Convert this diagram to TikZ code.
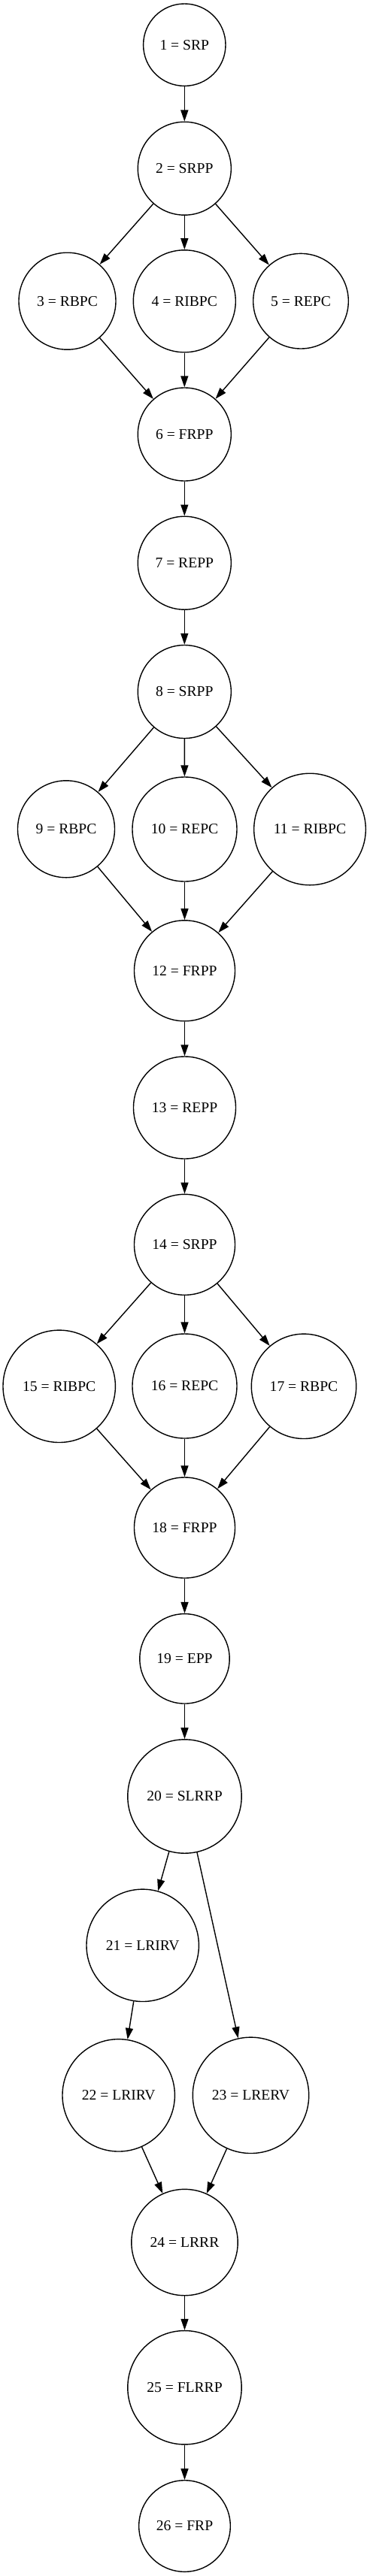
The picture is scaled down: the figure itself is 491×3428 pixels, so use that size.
\documentclass[tikz,border=0pt]{standalone}
\usepackage{fontspec}
\setmainfont{Liberation Serif}
\usetikzlibrary{arrows.meta}
\tikzset{
  nd/.style={draw, circle, inner sep=0pt, line width=1.4pt, font=\fontsize{19.6}{23}\selectfont},
  ed/.style={line width=1.4pt, -{Triangle[length=15pt,width=10pt]}}
}
\begin{document}
\begin{tikzpicture}[x=1pt,y=-1pt]
\useasboundingbox (0,0) rectangle (491,3428);
\node[nd, minimum size=109.4pt] (n1) at (245.3,59.7) {1 = SRP};
\node[nd, minimum size=124pt] (n2) at (245.3,224.2) {2 = SRPP};
\node[nd, minimum size=129pt] (n3) at (89.5,400.7) {3 = RBPC};
\node[nd, minimum size=136pt] (n4) at (245.3,400.8) {4 = RIBPC};
\node[nd, minimum size=126.6pt] (n5) at (400,400.7) {5 = REPC};
\node[nd, minimum size=124pt] (n6) at (245.3,578) {6 = FRPP};
\node[nd, minimum size=124pt] (n7) at (245.3,749.2) {7 = REPP};
\node[nd, minimum size=124pt] (n8) at (245.3,920.5) {8 = SRPP};
\node[nd, minimum size=129pt] (n9) at (88,1103.3) {9 = RBPC};
\node[nd, minimum size=139pt] (n10) at (245.5,1103.5) {10 = REPC};
\node[nd, minimum size=148.6pt] (n11) at (412,1103.5) {11 = RIBPC};
\node[nd, minimum size=134pt] (n12) at (245.5,1291.8) {12 = FRPP};
\node[nd, minimum size=136pt] (n13) at (245.5,1474) {13 = REPP};
\node[nd, minimum size=134pt] (n14) at (245.5,1656.3) {14 = SRPP};
\node[nd, minimum size=149.4pt] (n15) at (78.7,1844.8) {15 = RIBPC};
\node[nd, minimum size=139pt] (n16) at (245.5,1844.5) {16 = REPC};
\node[nd, minimum size=139.4pt] (n17) at (404,1844.8) {17 = RBPC};
\node[nd, minimum size=134pt] (n18) at (245.5,2033) {18 = FRPP};
\node[nd, minimum size=119.4pt] (n19) at (245.5,2207.3) {19 = EPP};
\node[nd, minimum size=151.4pt] (n20) at (245.5,2390.5) {20 = SLRRP};
\node[nd, minimum size=149.4pt] (n21) at (189.7,2588.8) {21 = LRIRV};
\node[nd, minimum size=149.4pt] (n22) at (157.7,2788.3) {22 = LRIRV};
\node[nd, minimum size=154.4pt] (n23) at (333.5,2788.3) {23 = LRERV};
\node[nd, minimum size=141.4pt] (n24) at (245.5,2984) {24 = LRRR};
\node[nd, minimum size=151.4pt] (n25) at (245.5,3177.2) {25 = FLRRP};
\node[nd, minimum size=121.6pt] (n26) at (245.5,3361.5) {26 = FRP};
\foreach \a/\b in {n1/n2, n2/n3, n2/n4, n2/n5, n3/n6, n4/n6, n5/n6, n6/n7, n7/n8,
  n8/n9, n8/n10, n8/n11, n9/n12, n10/n12, n11/n12, n12/n13, n13/n14,
  n14/n15, n14/n16, n14/n17, n15/n18, n16/n18, n17/n18, n18/n19, n19/n20,
  n20/n21, n20/n23, n21/n22, n22/n24, n23/n24, n24/n25, n25/n26}
  \draw[ed] (\a) -- (\b);
\end{tikzpicture}
\end{document}
